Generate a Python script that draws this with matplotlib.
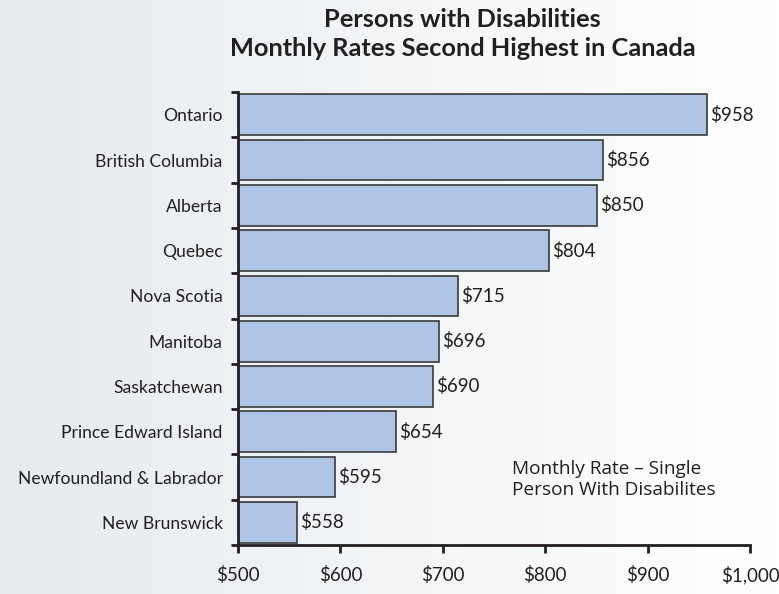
import numpy as np
import matplotlib.pyplot as plt
from matplotlib.colors import LinearSegmentedColormap

provinces = ["Ontario", "British Columbia", "Alberta", "Quebec", "Nova Scotia",
             "Manitoba", "Saskatchewan", "Prince Edward Island",
             "Newfoundland & Labrador", "New Brunswick"]
rates = [958, 856, 850, 804, 715, 696, 690, 654, 595, 558]
xticks = [500, 600, 700, 800, 900, 1000]
xlabels = ["$500", "$600", "$700", "$800", "$900", "$1,000"]

plt.rcParams['font.family'] = ['Lato', 'DejaVu Sans']
ink = '#231f20'

fig = plt.figure(figsize=(7.79, 5.94), dpi=100)

# background gradient, light blue-grey on the left to white on the right
bg = fig.add_axes([0, 0, 1, 1], zorder=-1)
grad = np.linspace(0, 1, 256).reshape(1, -1)
bg.imshow(grad, aspect='auto', extent=[0, 1, 0, 1],
          cmap=LinearSegmentedColormap.from_list('g', ['#e6ebf0', '#f3f5f7', '#ffffff']))
bg.axis('off')

ax = fig.add_axes([0.3055, 0.0825, 0.6575, 0.7625])
ax.patch.set_alpha(0)

y = np.arange(len(provinces))
ax.barh(y, [r - 500 for r in rates], left=500, height=0.9,
        color='#aec4e4', edgecolor='#3a3a3a', linewidth=1.2)
for yi, r in zip(y, rates):
    ax.text(r + 3, yi, "$%d" % r, va='center', ha='left', fontsize=13.5, color=ink)

ax.set_xlim(500, 1000)
ax.set_ylim(len(provinces) - 0.5, -0.5)
ax.set_xticks(xticks)
ax.set_xticklabels(xlabels, fontsize=13.5, color=ink)
ax.set_yticks(y)
ax.set_yticklabels(provinces, fontsize=12.6, color=ink)
ax.tick_params(axis='y', length=0, pad=11)
ax.set_yticks(np.arange(len(provinces) + 1) - 0.5, minor=True)
ax.tick_params(axis='y', which='minor', length=5, width=2, color=ink)
ax.tick_params(axis='x', length=6, width=2, color=ink, pad=9)
for s in ['top', 'right']:
    ax.spines[s].set_visible(False)
for s in ['left', 'bottom']:
    ax.spines[s].set_linewidth(2)
    ax.spines[s].set_color(ink)

ax.text(0.535, 0.145, "Monthly Rate \u2013 Single\nPerson With Disabilites",
        transform=ax.transAxes, fontsize=13.7, color=ink, family=['Open Sans', 'DejaVu Sans'],
        va='center', ha='left', linespacing=1.2)

fig.text(0.594, 0.943, "Persons with Disabilities\nMonthly Rates Second Highest in Canada",
         ha='center', va='center', fontsize=18.3, fontweight='bold', color=ink,
         linespacing=1.3)

fig.savefig("out.png", dpi=100)
